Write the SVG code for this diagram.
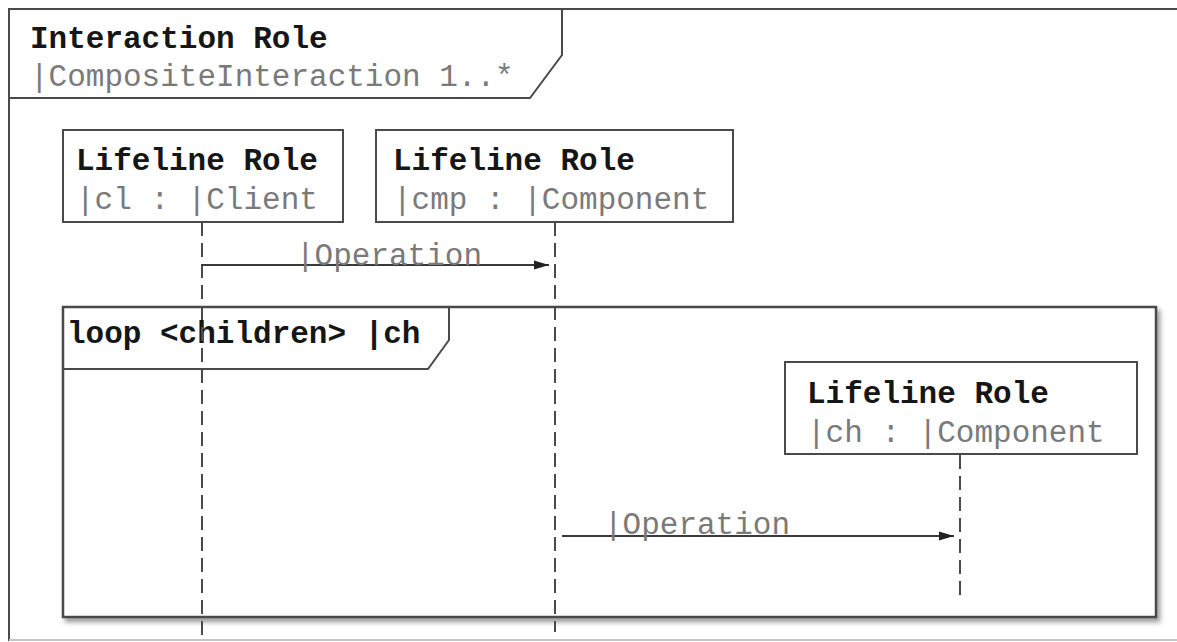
<svg xmlns="http://www.w3.org/2000/svg" width="1177" height="642" viewBox="0 0 1177 642">
  <style>
    .frame { fill: none; stroke: #4a4a4a; stroke-width: 2; }
    .box { fill: #ffffff; stroke: #4a4a4a; stroke-width: 2; }
    .title { font-family: "Liberation Mono", "Courier New", monospace; font-size: 31px; font-weight: bold; fill: #161616; }
    .sub { font-family: "Liberation Mono", "Courier New", monospace; font-size: 31px; fill: #7a7a7a; }
    .life { fill: none; stroke: #4a4a4a; stroke-width: 2; stroke-dasharray: 14 7; }
    .msg { fill: none; stroke: #3a3a3a; stroke-width: 2; }
  </style>
  <defs>
    <marker id="arrow" markerWidth="16" markerHeight="12" refX="15" refY="6" orient="auto" markerUnits="userSpaceOnUse">
      <path d="M0,1.5 L15,6 L0,10.5 Z" fill="#222"/>
    </marker>
    <filter id="shadow" x="-5%" y="-5%" width="110%" height="115%">
      <feDropShadow dx="3" dy="4" stdDeviation="2.5" flood-color="#000" flood-opacity="0.4"/>
    </filter>
  </defs>

  <rect width="1177" height="642" fill="#ffffff"/>

  <!-- interaction frame -->
  <g id="interaction">
    <path class="frame" d="M1180,9 L9,9 L9,641"/>
    <line x1="9" y1="640" x2="1177" y2="640" stroke="#c4c4c4" stroke-width="2"/>
    <path class="frame" d="M9,9 L562,9 L562,55 L530,98 L9,98"/>
    <text class="title" x="30" y="48">Interaction Role</text>
    <text class="sub" x="30" y="86">|CompositeInteraction 1..*</text>
  </g>

  <!-- loop fragment -->
  <g id="loop">
    <rect x="63" y="307" width="1093" height="310" fill="#ffffff" stroke="#4a4a4a" stroke-width="2.5" filter="url(#shadow)"/>
    <path class="frame" d="M63,307 L449,307 L449,340 L428,369 L63,369"/>
    <text class="title" x="67" y="343">loop &lt;children&gt; |ch</text>
  </g>

  <!-- lifelines and messages -->
  <g id="connectors">
    <line class="life" x1="202" y1="222" x2="202" y2="637"/>
    <line class="life" x1="555" y1="222" x2="555" y2="632"/>
    <line class="life" x1="960" y1="455" x2="960" y2="597" stroke-width="2.5"/>
    <line class="msg" x1="201" y1="265" x2="549" y2="265" marker-end="url(#arrow)"/>
    <text class="sub" x="296" y="265">|Operation</text>
    <line class="msg" x1="562" y1="536" x2="954" y2="536" marker-end="url(#arrow)"/>
    <text class="sub" x="604" y="534">|Operation</text>
  </g>

  <g id="lifeline-cl">
    <rect class="box" x="63" y="130" width="280" height="92"/>
    <text class="title" x="76" y="170">Lifeline Role</text>
    <text class="sub" x="76" y="209">|cl : |Client</text>
  </g>

  <g id="lifeline-cmp">
    <rect class="box" x="376" y="130" width="357" height="92"/>
    <text class="title" x="393" y="170">Lifeline Role</text>
    <text class="sub" x="393" y="209">|cmp : |Component</text>
  </g>

  <g id="lifeline-ch">
    <rect class="box" x="785" y="362" width="352" height="92"/>
    <text class="title" x="807" y="403">Lifeline Role</text>
    <text class="sub" x="807" y="442">|ch : |Component</text>
  </g>
</svg>
